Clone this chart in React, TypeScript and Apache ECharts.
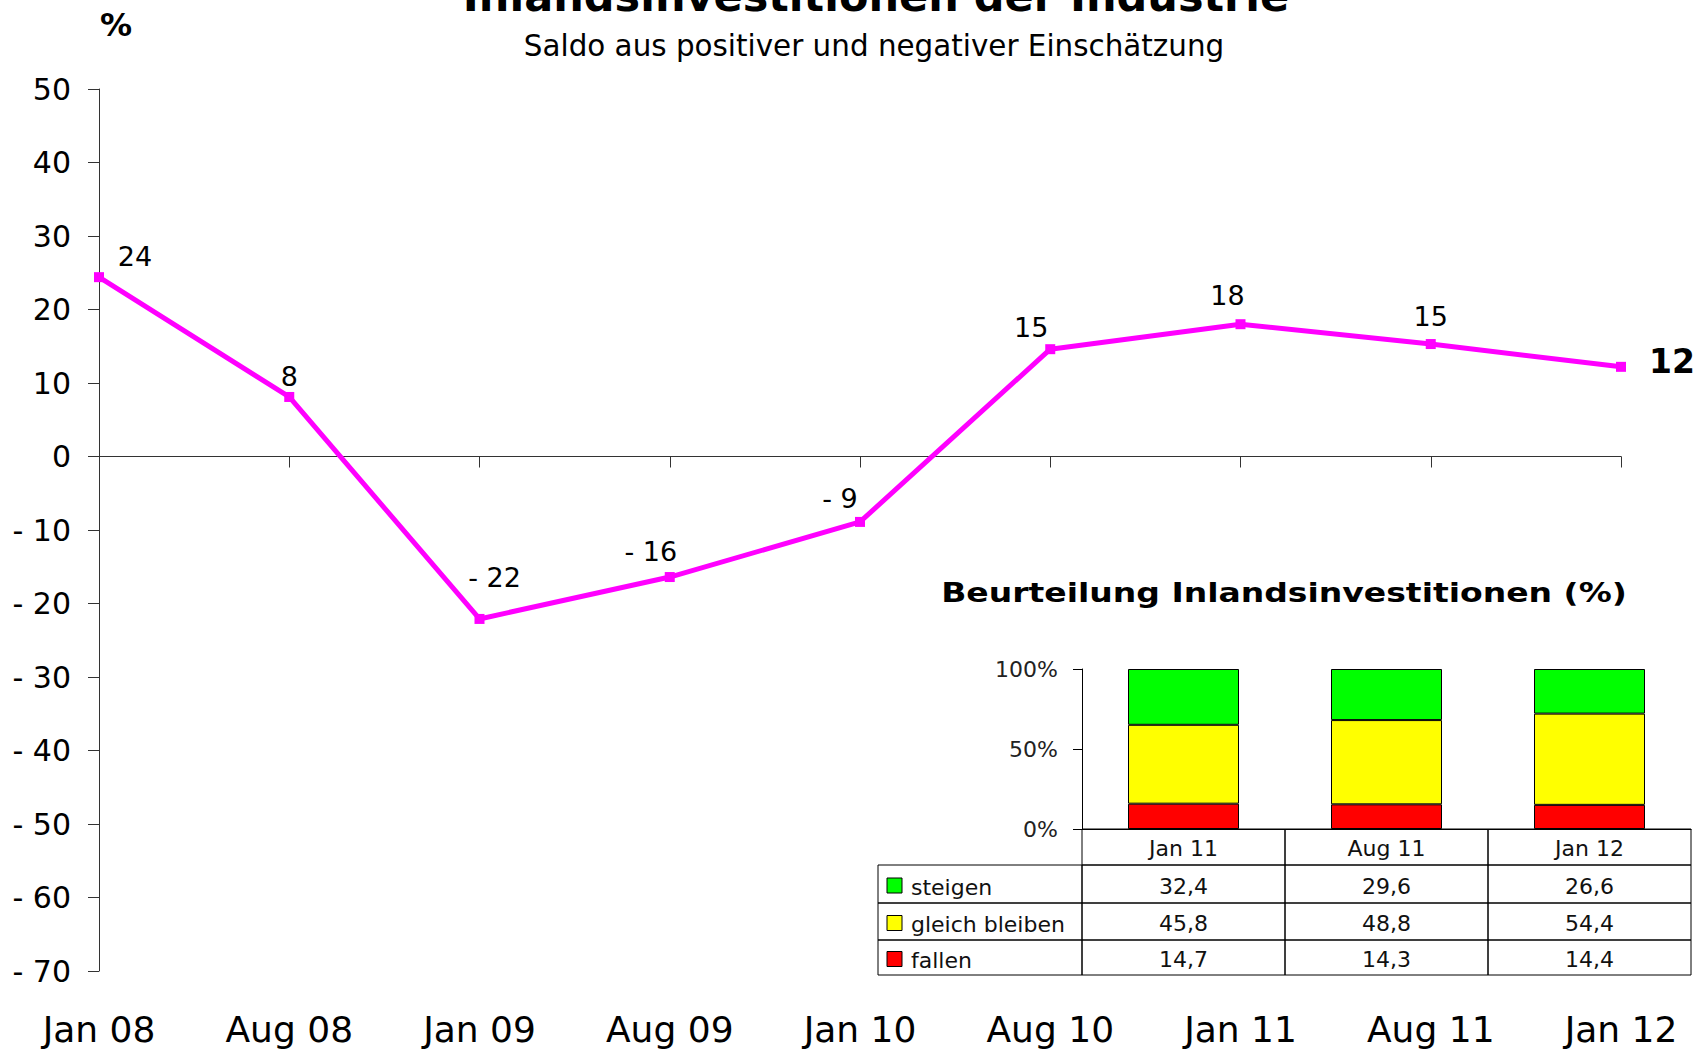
import React, { useEffect, useRef } from "react";
import * as echarts from "echarts";

// ---------- data ----------
const categories = ["Jan 08", "Aug 08", "Jan 09", "Aug 09", "Jan 10", "Aug 10", "Jan 11", "Aug 11", "Jan 12"];
const saldo = [24.4, 8.1, -22.1, -16.4, -8.9, 14.6, 18.0, 15.3, 12.2];

const insetCategories = ["Jan 11", "Aug 11", "Jan 12"];
const steigen = [32.4, 29.6, 26.6];
const gleichBleiben = [45.8, 48.8, 54.4];
const fallen = [14.7, 14.3, 14.4];
const insetSeriesNames = ["steigen", "gleich bleiben", "fallen"];

const titleText = "Inlandsinvestitionen der Industrie";
const subtitleText = "Saldo aus positiver und negativer Einschätzung";
const insetTitleText = "Beurteilung Inlandsinvestitionen (%)";
const unitText = "%";

// ---------- layout / style ----------
const FONT = '"DejaVu Sans", "Liberation Sans", Arial, sans-serif';
const labelOffsets: [number, number][] = [
  [36, -21], [0, -20], [15, -41], [-19, -26], [-20, -23], [-19, -22], [-13, -29], [0, -28], [51, -5],
];
const insetColors = ["#00FF00", "#FFFF00", "#FF0000"];

const fmtSigned = (v: number) => (v < 0 ? "- " + Math.abs(v) : String(v));
const fmtComma = (v: number) => v.toFixed(1).replace(".", ",");

export default function App() {
  const ref = useRef<HTMLDivElement>(null);

  useEffect(() => {
    if (!ref.current) return;
    const chart = echarts.init(ref.current, undefined, { renderer: "svg" });

    const totals = steigen.map((s, i) => s + gleichBleiben[i] + fallen[i]);
    const share = (arr: number[]) => arr.map((v, i) => (v / totals[i]) * 100);
    const insetRaw = [steigen, gleichBleiben, fallen];

    // table geometry
    const tabLeft = 878;
    const colX = [1082, 1285, 1488, 1691];
    const headTop = 829;
    const rowY = [865, 903, 940, 975];
    const graphics: any[] = [];

    graphics.push({
      type: "text", x: 876, y: -4,
      style: { text: titleText, fontSize: 43, fontWeight: "bold", fontFamily: FONT, fill: "#000", align: "center", verticalAlign: "middle" },
    });
    graphics.push({
      type: "text", x: 874, y: 46,
      style: { text: subtitleText, fontSize: 29.4, fontFamily: FONT, fill: "#000", align: "center", verticalAlign: "middle" },
    });
    graphics.push({
      type: "text", x: 116, y: 25,
      style: { text: unitText, fontSize: 32, fontWeight: "bold", fontFamily: FONT, fill: "#000", align: "center", verticalAlign: "middle" },
    });
    graphics.push({
      type: "text", x: 1284, y: 593, scaleX: 1.27,
      style: { text: insetTitleText, fontSize: 26, fontWeight: "bold", fontFamily: FONT, fill: "#000", align: "center", verticalAlign: "middle" },
    });

    // header cells
    for (let c = 0; c < 3; c++) {
      graphics.push({
        type: "rect",
        shape: { x: colX[c], y: headTop, width: colX[c + 1] - colX[c], height: rowY[0] - headTop },
        style: { fill: "none", stroke: "#000", lineWidth: 1 },
      });
      graphics.push({
        type: "text", x: (colX[c] + colX[c + 1]) / 2, y: (headTop + rowY[0]) / 2 + 1,
        style: { text: insetCategories[c], fontSize: 22, fontFamily: FONT, fill: "#111", align: "center", verticalAlign: "middle" },
      });
    }
    // body rows
    for (let r = 0; r < 3; r++) {
      const y0 = rowY[r];
      const y1 = rowY[r + 1];
      const cy = (y0 + y1) / 2;
      graphics.push({
        type: "rect",
        shape: { x: tabLeft, y: y0, width: colX[0] - tabLeft, height: y1 - y0 },
        style: { fill: "none", stroke: "#000", lineWidth: 1 },
      });
      graphics.push({
        type: "rect",
        shape: { x: 887, y: cy - 6, width: 15, height: 15 },
        style: { fill: insetColors[r], stroke: "#000", lineWidth: 1 },
      });
      graphics.push({
        type: "text", x: 911, y: cy + 3,
        style: { text: insetSeriesNames[r], fontSize: 22, fontFamily: FONT, fill: "#111", align: "left", verticalAlign: "middle" },
      });
      for (let c = 0; c < 3; c++) {
        graphics.push({
          type: "rect",
          shape: { x: colX[c], y: y0, width: colX[c + 1] - colX[c], height: y1 - y0 },
          style: { fill: "none", stroke: "#000", lineWidth: 1 },
        });
        graphics.push({
          type: "text", x: (colX[c] + colX[c + 1]) / 2, y: cy + 2,
          style: { text: fmtComma(insetRaw[r][c]), fontSize: 22, fontFamily: FONT, fill: "#111", align: "center", verticalAlign: "middle" },
        });
      }
    }

    const lineData = saldo.map((v, i) => {
      const last = i === saldo.length - 1;
      return {
        value: v,
        label: {
          offset: labelOffsets[i],
          fontSize: last ? 33 : 27,
          fontWeight: last ? "bold" : "normal",
        },
      };
    });

    const axisLineStyle = { color: "#333", width: 1 };

    chart.setOption({
      animation: false,
      backgroundColor: "#fff",
      textStyle: { fontFamily: FONT },
      grid: [
        { left: 99, top: 89, width: 1522, height: 882 },
        { left: 1082, top: 669, width: 609, height: 160 },
      ],
      xAxis: [
        {
          gridIndex: 0, type: "category", data: categories, boundaryGap: false, position: "bottom",
          axisLine: { show: false, onZero: false }, axisTick: { show: false },
          axisLabel: { fontSize: 36, color: "#000", margin: 40, fontFamily: FONT },
          splitLine: { show: false },
        },
        {
          gridIndex: 0, type: "category", data: categories, boundaryGap: false, position: "bottom",
          axisLine: { show: true, onZero: true, lineStyle: axisLineStyle },
          axisTick: { show: true, length: 11, lineStyle: axisLineStyle },
          axisLabel: { show: false }, splitLine: { show: false },
        },
        {
          gridIndex: 1, type: "category", data: insetCategories, position: "bottom",
          axisLine: { show: true, lineStyle: { color: "#000", width: 1 } },
          axisTick: { show: false }, axisLabel: { show: false }, splitLine: { show: false },
        },
      ],
      yAxis: [
        {
          gridIndex: 0, type: "value", min: -70, max: 50, interval: 10,
          axisLine: { show: true, lineStyle: axisLineStyle },
          axisTick: { show: true, length: 11, lineStyle: axisLineStyle },
          axisLabel: { fontSize: 30, color: "#000", margin: 28, fontFamily: FONT, formatter: (v: number) => fmtSigned(v) },
          splitLine: { show: false },
        },
        {
          gridIndex: 1, type: "value", min: 0, max: 100, interval: 50,
          axisLine: { show: true, lineStyle: { color: "#000", width: 1 } },
          axisTick: { show: true, length: 9, lineStyle: { color: "#000" } },
          axisLabel: { fontSize: 22, color: "#222", margin: 24, fontFamily: FONT, formatter: "{value}%" },
          splitLine: { show: false },
        },
      ],
      series: [
        {
          type: "line", xAxisIndex: 0, yAxisIndex: 0, data: lineData,
          lineStyle: { color: "#FF00FF", width: 5 },
          itemStyle: { color: "#FF00FF" },
          symbol: "rect", symbolSize: 10, showAllSymbol: true,
          label: {
            show: true, position: "inside", color: "#000", fontFamily: FONT,
            align: "center", verticalAlign: "middle",
            formatter: (p: any) => fmtSigned(Math.round(p.value)),
          },
          z: 5,
        },
        {
          name: "fallen", type: "bar", xAxisIndex: 2, yAxisIndex: 1, stack: "inset", barWidth: 111,
          data: share(fallen), itemStyle: { color: insetColors[2], borderColor: "#000", borderWidth: 1 },
        },
        {
          name: "gleich bleiben", type: "bar", xAxisIndex: 2, yAxisIndex: 1, stack: "inset", barWidth: 111,
          data: share(gleichBleiben), itemStyle: { color: insetColors[1], borderColor: "#000", borderWidth: 1 },
        },
        {
          name: "steigen", type: "bar", xAxisIndex: 2, yAxisIndex: 1, stack: "inset", barWidth: 111,
          data: share(steigen), itemStyle: { color: insetColors[0], borderColor: "#000", borderWidth: 1 },
        },
      ],
      graphic: graphics,
    });

    return () => chart.dispose();
  }, []);

  return (
    <div
      ref={ref}
      style={{ position: "absolute", left: 0, top: 0, width: 1702, height: 1051, background: "#fff" }}
    />
  );
}
